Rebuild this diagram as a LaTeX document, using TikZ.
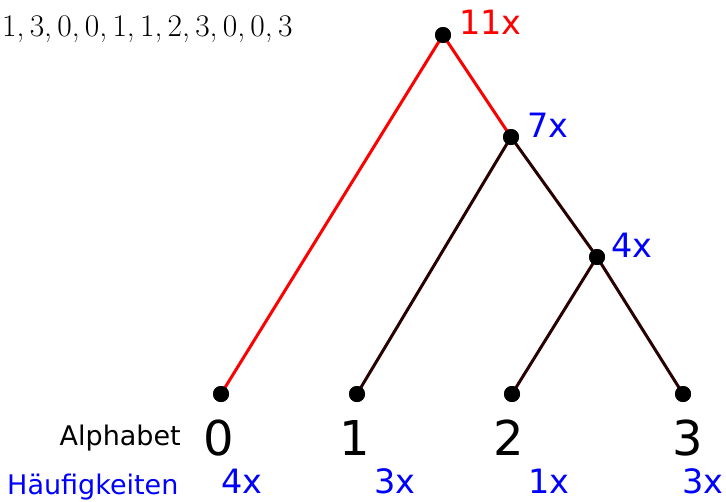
\documentclass[tikz,border=0pt]{standalone}
\usepackage{fontspec}
\newfontfamily\dv{DejaVu Sans}
\begin{document}
\begin{tikzpicture}[x=1pt,y=-1pt,
  dot/.style={circle,fill=black,inner sep=0pt,minimum size=16pt},
  redline/.style={draw=red,line width=3pt},
  darkline/.style={draw={rgb,255:red,40;green,0;blue,0},line width=3pt},
  cnt/.style={font=\dv\fontsize{33.5}{40}\selectfont,inner sep=0pt},
  sym/.style={font=\dv\fontsize{48}{56}\selectfont,inner sep=0pt},
  lbl/.style={font=\dv\fontsize{27}{32}\selectfont,inner sep=0pt}]
\useasboundingbox (0,0) rectangle (726,501);
\fill[white] (0,0) rectangle (726,501);
\node[dot] (r) at (443,35) {};
\node[dot] (n7) at (511,137) {};
\node[dot] (n4) at (597,257) {};
\node[dot] (l0) at (221,394) {};
\node[dot] (l1) at (357,394) {};
\node[dot] (l2) at (512,394) {};
\node[dot] (l3) at (683,394) {};
\draw[redline] (r.center) -- (l0.center);
\draw[redline] (r.center) -- (n7.center);
\draw[darkline] (n7.center) -- (l1.center);
\draw[darkline] (n7.center) -- (n4.center);
\draw[darkline] (n4.center) -- (l2.center);
\draw[darkline] (n4.center) -- (l3.center);
\foreach \n in {r,n7,n4,l0,l1,l2,l3} \fill (\n) circle (8);
\node[cnt,text=red,anchor=base west] (c11) at (459,34) {11x};
\node[cnt,text=blue,anchor=base west] (c7) at (527,137) {7x};
\node[cnt,text=blue,anchor=base west] (c4) at (611,257) {4x};
\node[sym,anchor=base] (s0) at (219,455) {0};
\node[sym,anchor=base] (s1) at (355,455) {1};
\node[sym,anchor=base] (s2) at (509,455) {2};
\node[sym,anchor=base] (s3) at (688,455) {3};
\node[lbl,anchor=base east] (alph) at (181,445) {Alphabet};
\node[lbl,text=blue,anchor=base west] (hf) at (7,494) {Häufigkeiten};
\node[cnt,text=blue,anchor=base] (f0) at (242,493) {4x};
\node[cnt,text=blue,anchor=base] (f1) at (395,493) {3x};
\node[cnt,text=blue,anchor=base] (f2) at (549,493) {1x};
\node[cnt,text=blue,anchor=base] (f3) at (703,493) {3x};
\node[anchor=base west,inner sep=0pt,font=\fontsize{31.5}{36}\selectfont] (seq) at (2,36) {1,\,3,\,0,\,0,\,1,\,1,\,2,\,3,\,0,\,0,\,3};
\end{tikzpicture}
\end{document}
